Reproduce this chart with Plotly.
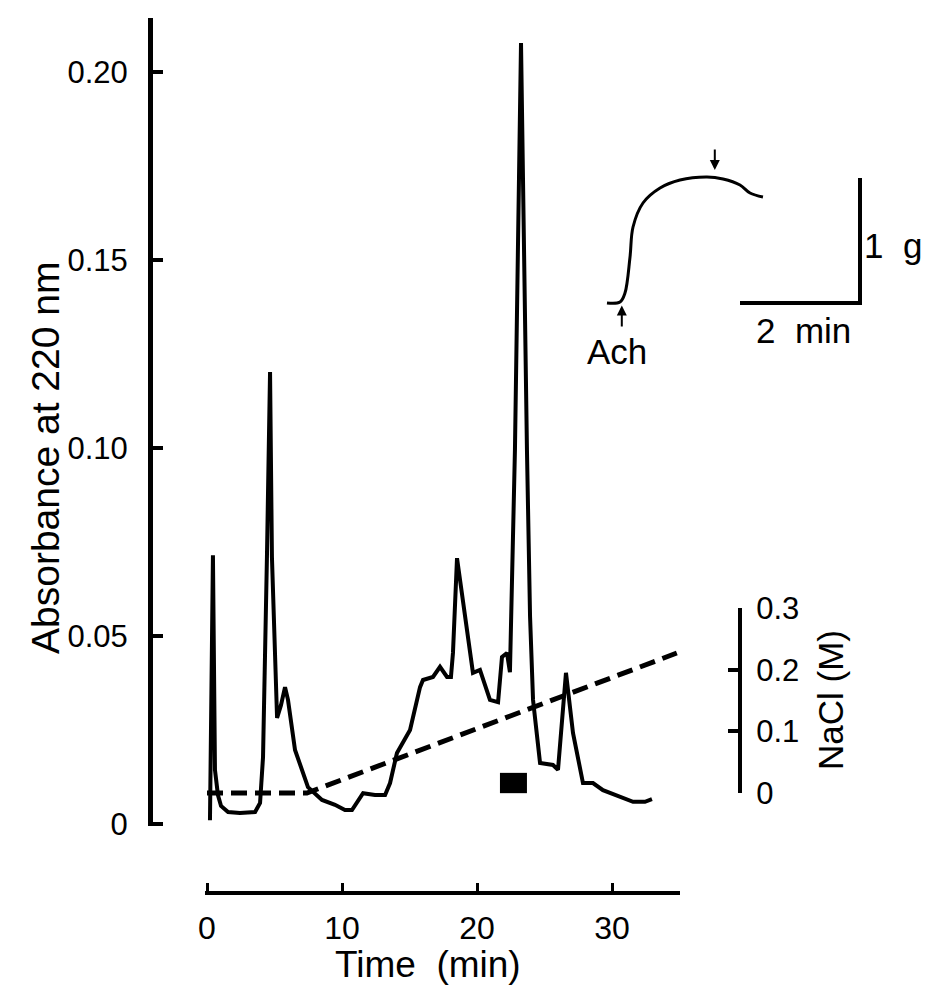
import plotly.graph_objects as go

W, H = 930, 1002

# ---------------- data ----------------
# Chromatogram: time (min) vs absorbance at 220 nm
time_min = [0.22, 0.44, 0.59, 0.81, 1.04, 1.56, 2.44, 3.56, 3.93, 4.15, 4.44, 4.67,
            4.81, 5.04, 5.19, 5.48, 5.78, 6.00, 6.52, 7.48, 8.52, 9.48, 10.22, 10.74,
            11.56, 12.44, 13.19, 13.56, 14.07, 15.04, 15.78, 16.00, 16.74, 17.26, 17.78,
            18.07, 18.22, 18.52, 18.96, 19.70, 20.22, 20.96, 21.56, 21.85, 22.22, 22.44,
            22.81, 23.26, 23.70, 23.93, 24.15, 24.67, 25.63, 26.00, 26.59, 27.11, 27.85,
            28.59, 29.33, 30.59, 31.56, 32.44, 32.96]
absorbance = [0.001, 0.0715, 0.0144, 0.0077, 0.0048, 0.0032, 0.0029, 0.0032, 0.0056,
              0.0178, 0.0710, 0.1202, 0.0710, 0.0489, 0.0282, 0.0316, 0.0364, 0.0330,
              0.0197, 0.0098, 0.0064, 0.0051, 0.0037, 0.0037, 0.0082, 0.0077, 0.0077,
              0.0109, 0.0189, 0.0250, 0.0364, 0.0383, 0.0391, 0.0418, 0.0391, 0.0391,
              0.0455, 0.0707, 0.0596, 0.0402, 0.0410, 0.0330, 0.0324, 0.0444, 0.0455,
              0.0404, 0.0995, 0.2077, 0.0995, 0.0551, 0.0330, 0.0162, 0.0157, 0.0144,
              0.0402, 0.0242, 0.0109, 0.0109, 0.0090, 0.0072, 0.0059, 0.0059, 0.0066]

# NaCl gradient (M)
grad_time = [0.0, 7.4, 34.8]
grad_nacl = [0.0, 0.0, 0.227]

# active fraction (black bar)
active_t = [21.7, 23.7]
active_a = [0.0082, 0.0136]

# axis ticks
abs_ticks = [0, 0.05, 0.10, 0.15, 0.20]
abs_ticktext = ["0", "0.05", "0.10", "0.15", "0.20"]
time_ticks = [0, 10, 20, 30]
nacl_ticks = [0, 0.1, 0.2, 0.3]
nacl_ticktext = ["0", "0.1", "0.2", "0.3"]

# Inset: contraction trace (time in min, tension in g)
ach_t = [-0.217, 0.0, 0.083, 0.167, 0.217, 0.383, 0.667, 1.0, 1.45, 1.717, 2.0, 2.167, 2.383]
ach_g = [0.0, 0.008, 0.08, 0.368, 0.608, 0.80, 0.92, 0.984, 1.008, 0.992, 0.944, 0.88, 0.848]
scale_t = [2.0, 4.0, 4.0]
scale_g = [0.0, 0.0, 1.0]

FONT = "Liberation Sans, Arial, sans-serif"


def px(x):
    return x / W


def py(y):
    return 1 - y / H


fig = go.Figure()

fig.add_trace(go.Scatter(x=time_min, y=absorbance, mode="lines",
                         line=dict(color="black", width=4), xaxis="x", yaxis="y",
                         showlegend=False, hoverinfo="skip"))
# invisible trace so that the NaCl axis is drawn
fig.add_trace(go.Scatter(x=grad_time, y=grad_nacl, mode="lines", opacity=0,
                         line=dict(color="black", width=0),
                         xaxis="x", yaxis="y2", showlegend=False, hoverinfo="skip"))
fig.add_trace(go.Scatter(x=grad_time, y=grad_nacl, mode="lines",
                         line=dict(color="black", width=5, dash="16px,8px"),
                         xaxis="x", yaxis="y4",
                         showlegend=False, hoverinfo="skip"))
fig.add_trace(go.Scatter(x=ach_t, y=ach_g, mode="lines",
                         line=dict(color="black", width=3, shape="spline"),
                         xaxis="x3", yaxis="y3", showlegend=False, hoverinfo="skip"))
fig.add_trace(go.Scatter(x=scale_t, y=scale_g, mode="lines",
                         line=dict(color="black", width=4),
                         xaxis="x3", yaxis="y3", showlegend=False, hoverinfo="skip"))

fig.add_shape(type="rect", xref="x", yref="y", x0=active_t[0], x1=active_t[1],
              y0=active_a[0], y1=active_a[1], fillcolor="black", line=dict(width=0))

# time axis mapping: 0 min -> px 207, 13.5 px/min
x_l, x_r = 205, 680
x_rng = [(x_l - 207) / 13.5, (x_r - 207) / 13.5]
# absorbance mapping: 0 -> py 824, 3760 px/unit
y_top, y_bot = 18, 826
y_rng = [(824 - y_bot) / 3760, (824 - y_top) / 3760]
# NaCl mapping: 0 -> py 793, 616.67 px/M
n_px = 185 / 0.3

axis_common = dict(showgrid=False, zeroline=False, showline=True, linecolor="black",
                   ticks="inside", tickcolor="black", automargin=False)

fig.update_layout(
    template="none",
    width=W, height=H, margin=dict(l=0, r=0, t=0, b=0, pad=0), autosize=False,
    paper_bgcolor="white", plot_bgcolor="rgba(0,0,0,0)",
    font=dict(family=FONT, color="black"),
    showlegend=False,
    xaxis=dict(domain=[px(x_l), px(x_r)], range=x_rng, anchor="free", position=py(893),
               tickvals=time_ticks, linewidth=4, ticklen=8, tickwidth=3,
               tickfont=dict(size=32), ticklabelstandoff=6, **axis_common),
    yaxis=dict(domain=[py(y_bot), py(y_top)], range=y_rng, anchor="free", position=px(150),
               tickvals=abs_ticks, ticktext=abs_ticktext, linewidth=5, ticklen=10,
               tickwidth=4, tickfont=dict(size=31), ticklabelstandoff=14, **axis_common),
    yaxis2=dict(domain=[py(793), py(608)], range=[0, 0.3], anchor="free", position=px(740),
                side="right", tickvals=nacl_ticks, ticktext=nacl_ticktext, linewidth=4,
                ticklen=10, tickwidth=4, tickfont=dict(size=31), ticklabelstandoff=8,
                **axis_common),
    yaxis4=dict(domain=[py(830), py(560)], range=[(793 - 830) / n_px, (793 - 560) / n_px],
                anchor="free", position=px(740), visible=False, automargin=False),
    xaxis3=dict(domain=[px(570), px(925)], range=[(570 - 620) / 60, (925 - 620) / 60],
                visible=False, anchor="y3", automargin=False),
    yaxis3=dict(domain=[py(380), py(130)], range=[(303 - 380) / 125, (303 - 130) / 125],
                visible=False, anchor="x3", automargin=False),
)

C = dict(xanchor="center", yanchor="middle", showarrow=False)
ann = [
    dict(text="Absorbance at 220 nm", x=px(45), y=py(458), xref="paper", yref="paper",
         textangle=-90, font=dict(size=39), **C),
    dict(text="Time  (min)", x=px(428), y=py(964), xref="paper", yref="paper",
         font=dict(size=37), **C),
    dict(text="NaCl (M)", x=px(830), y=py(700), xref="paper", yref="paper",
         textangle=-90, font=dict(size=35), **C),
    # inset labels
    dict(text="Ach", x=-0.05, y=-0.39, xref="x3", yref="y3", font=dict(size=35), **C),
    dict(text="2  min", x=3.05, y=-0.22, xref="x3", yref="y3", font=dict(size=35), **C),
    dict(text="1  g", x=4.55, y=0.46, xref="x3", yref="y3", font=dict(size=35), **C),
    # arrows
    dict(x=0.03, y=-0.02, ax=0.03, ay=-0.2, xref="x3", yref="y3", axref="x3", ayref="y3",
         text="", showarrow=True, arrowhead=2, arrowsize=1, arrowwidth=2, arrowcolor="black"),
    dict(x=1.58, y=1.064, ax=1.58, ay=1.24, xref="x3", yref="y3", axref="x3", ayref="y3",
         text="", showarrow=True, arrowhead=2, arrowsize=1, arrowwidth=2, arrowcolor="black"),
]
fig.update_layout(annotations=ann)

fig.write_html("out.html")
